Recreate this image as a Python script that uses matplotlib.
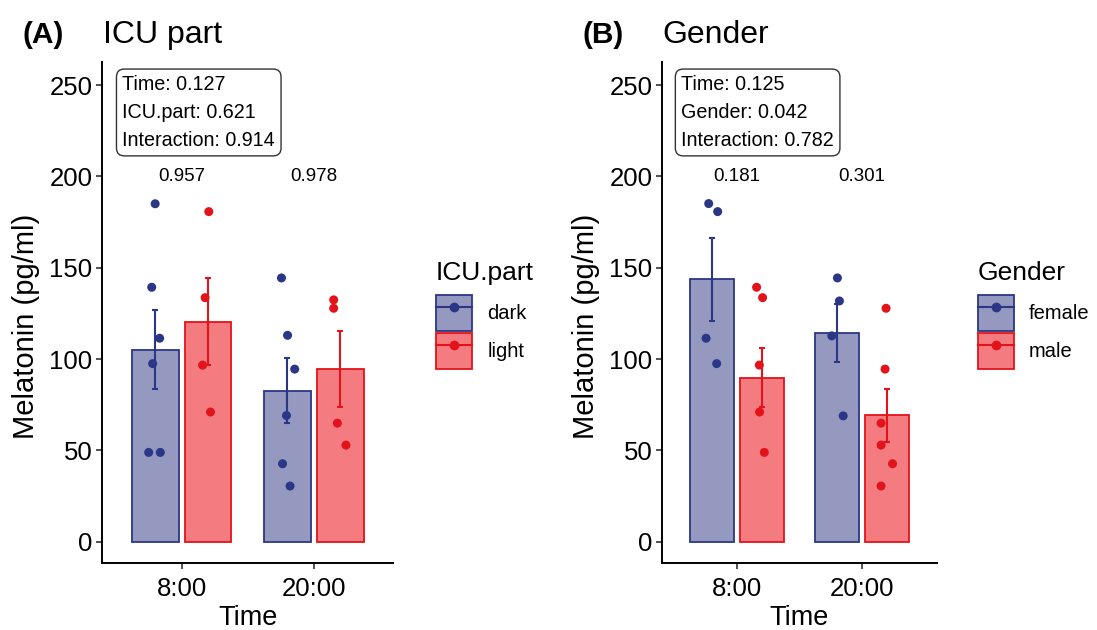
import matplotlib.pyplot as plt
from matplotlib.lines import Line2D
from matplotlib.patches import Patch
import numpy as np

plt.rcParams['font.family'] = ['Liberation Sans', 'DejaVu Sans']

times = ["8:00", "20:00"]

# (A) ICU part
icu_labels = ["dark", "light"]
icu_dark_mean = [105.2, 82.7]
icu_dark_se = [21.8, 17.7]
icu_light_mean = [120.5, 94.6]
icu_light_se = [23.8, 20.8]
icu_dark_pts = [[185, 139.3, 111.4, 97.5, 48.9, 48.9],
                [144.4, 113, 94.5, 69.1, 42.7, 30.5]]
icu_dark_jit = [[0.0, -0.026, 0.034, -0.019, -0.049, 0.039],
                [-0.044, 0.002, 0.056, -0.006, -0.036, 0.021]]
icu_light_pts = [[180.7, 133.6, 96.7, 71],
                 [132.4, 127.8, 64.9, 52.9]]
icu_light_jit = [[0.006, -0.022, -0.041, 0.019],
                 [-0.049, -0.049, -0.021, 0.044]]
icu_pvals = ["0.957", "0.978"]
icu_anova = "Time: 0.127\nICU.part: 0.621\nInteraction: 0.914"

# (B) Gender
gender_labels = ["female", "male"]
female_mean = [143.7, 114.1]
female_se = [22.8, 15.9]
male_mean = [89.9, 69.2]
male_se = [16.4, 14.5]
female_pts = [[185.1, 180.7, 111.4, 97.5],
              [144.4, 131.8, 112.7, 68.9]]
female_jit = [[-0.028, 0.044, -0.049, 0.036],
              [0.004, 0.02, -0.041, 0.05]]
male_pts = [[139.3, 133.6, 96.7, 71, 48.9],
            [127.8, 94.5, 64.9, 52.9, 42.7, 30.5]]
male_jit = [[-0.044, 0.004, -0.022, -0.02, 0.018],
            [-0.006, -0.014, -0.046, -0.046, 0.046, -0.046]]
gender_pvals = ["0.181", "0.301"]
gender_anova = "Time: 0.125\nGender: 0.042\nInteraction: 0.782"

navy = '#2B3686'
navy_fill = '#9599C0'
red = '#E3131B'
red_fill = '#F47C80'

W, H = 1097, 630


def draw_panel(ax, means, ses, pts, jits, pvals, anova, width_px):
	x = np.arange(1, len(times) + 1)
	offsets = [-0.2, 0.2]
	cols = [(navy, navy_fill), (red, red_fill)]
	for k in range(2):
		edge, fill = cols[k]
		xs = x + offsets[k]
		ax.bar(xs, means[k], width=0.355, color=fill, edgecolor=edge, linewidth=1.3, zorder=2)
		ax.errorbar(xs, means[k], yerr=ses[k], fmt='none', ecolor=edge, elinewidth=1.5,
			capsize=2.5, capthick=1.5, zorder=3)
		for t in range(len(times)):
			px = xs[t] + np.array(jits[k][t])
			ax.scatter(px, pts[k][t], s=42, color=edge, edgecolors='none', zorder=4)
	for t in range(len(times)):
		ax.text(x[t], 200, pvals[t], ha='center', va='center', fontsize=13.5)
	ax.text(0.552, 255.5, anova, ha='left', va='top', fontsize=14.2, linespacing=1.6,
		bbox=dict(boxstyle='round,pad=0.3,rounding_size=0.4', fc='white', ec='#333333', lw=1))
	ax.set_xlim(0.4, 2.6)
	ax.set_ylim(-11.8, 262.6)
	ax.set_xticks(x)
	ax.set_xticklabels(times)
	ax.set_yticks([0, 50, 100, 150, 200, 250])
	ax.tick_params(labelsize=18.5, width=1.2, length=4, color='#333333', pad=3)
	ax.tick_params(axis='x', pad=6)
	for s in ['top', 'right']:
		ax.spines[s].set_visible(False)
	for s in ['left', 'bottom']:
		ax.spines[s].set_linewidth(1.4)
	ax.set_xlabel('Time', fontsize=19.5, labelpad=3)
	ax.set_ylabel('Melatonin (pg/ml)', fontsize=21)
	ax.yaxis.set_label_coords(-62.5 / width_px, 0.473)


def add_legend(ax, title, labels, x0, y0):
	handles = []
	for edge, fill in [(navy, navy_fill), (red, red_fill)]:
		p = Patch(facecolor=fill, edgecolor=edge, linewidth=1.3)
		l = Line2D([], [], color=edge, lw=1.5, marker='o', markersize=6)
		handles.append((p, l))
	ax.legend(handles, labels, loc='upper left',
		bbox_to_anchor=(x0 / W, 1 - y0 / H), bbox_transform=fig.transFigure,
		frameon=False, fontsize=14.5, handlelength=1.79,
		handleheight=2.37, labelspacing=0.1, handletextpad=0.75, borderpad=0,
		borderaxespad=0)
	fig.text(x0 / W, 1 - 280 / H, title, fontsize=19, va='baseline')


fig = plt.figure(figsize=(W / 100, H / 100), dpi=100)
w1 = 393 - 102.3
w2 = 936.7 - 662.3
ax1 = fig.add_axes([102.3 / W, 1 - 563.3 / H, w1 / W, (563.3 - 62) / H])
ax2 = fig.add_axes([662.3 / W, 1 - 563.3 / H, w2 / W, (563.3 - 62) / H])

draw_panel(ax1, [icu_dark_mean, icu_light_mean], [icu_dark_se, icu_light_se],
	[icu_dark_pts, icu_light_pts], [icu_dark_jit, icu_light_jit], icu_pvals, icu_anova, w1)
draw_panel(ax2, [female_mean, male_mean], [female_se, male_se],
	[female_pts, male_pts], [female_jit, male_jit], gender_pvals, gender_anova, w2)

add_legend(ax1, 'ICU.part', icu_labels, 436, 295)
add_legend(ax2, 'Gender', gender_labels, 978, 295)

fig.text(22 / W, 1 - 43 / H, '(A)', fontsize=21.5, fontweight='bold', va='baseline')
fig.text(103 / W, 1 - 43 / H, 'ICU part', fontsize=23, va='baseline')
fig.text(583 / W, 1 - 43 / H, '(B)', fontsize=21.5, fontweight='bold', va='baseline')
fig.text(662 / W, 1 - 43 / H, 'Gender', fontsize=23, va='baseline')

fig.savefig('out.png', dpi=100)
